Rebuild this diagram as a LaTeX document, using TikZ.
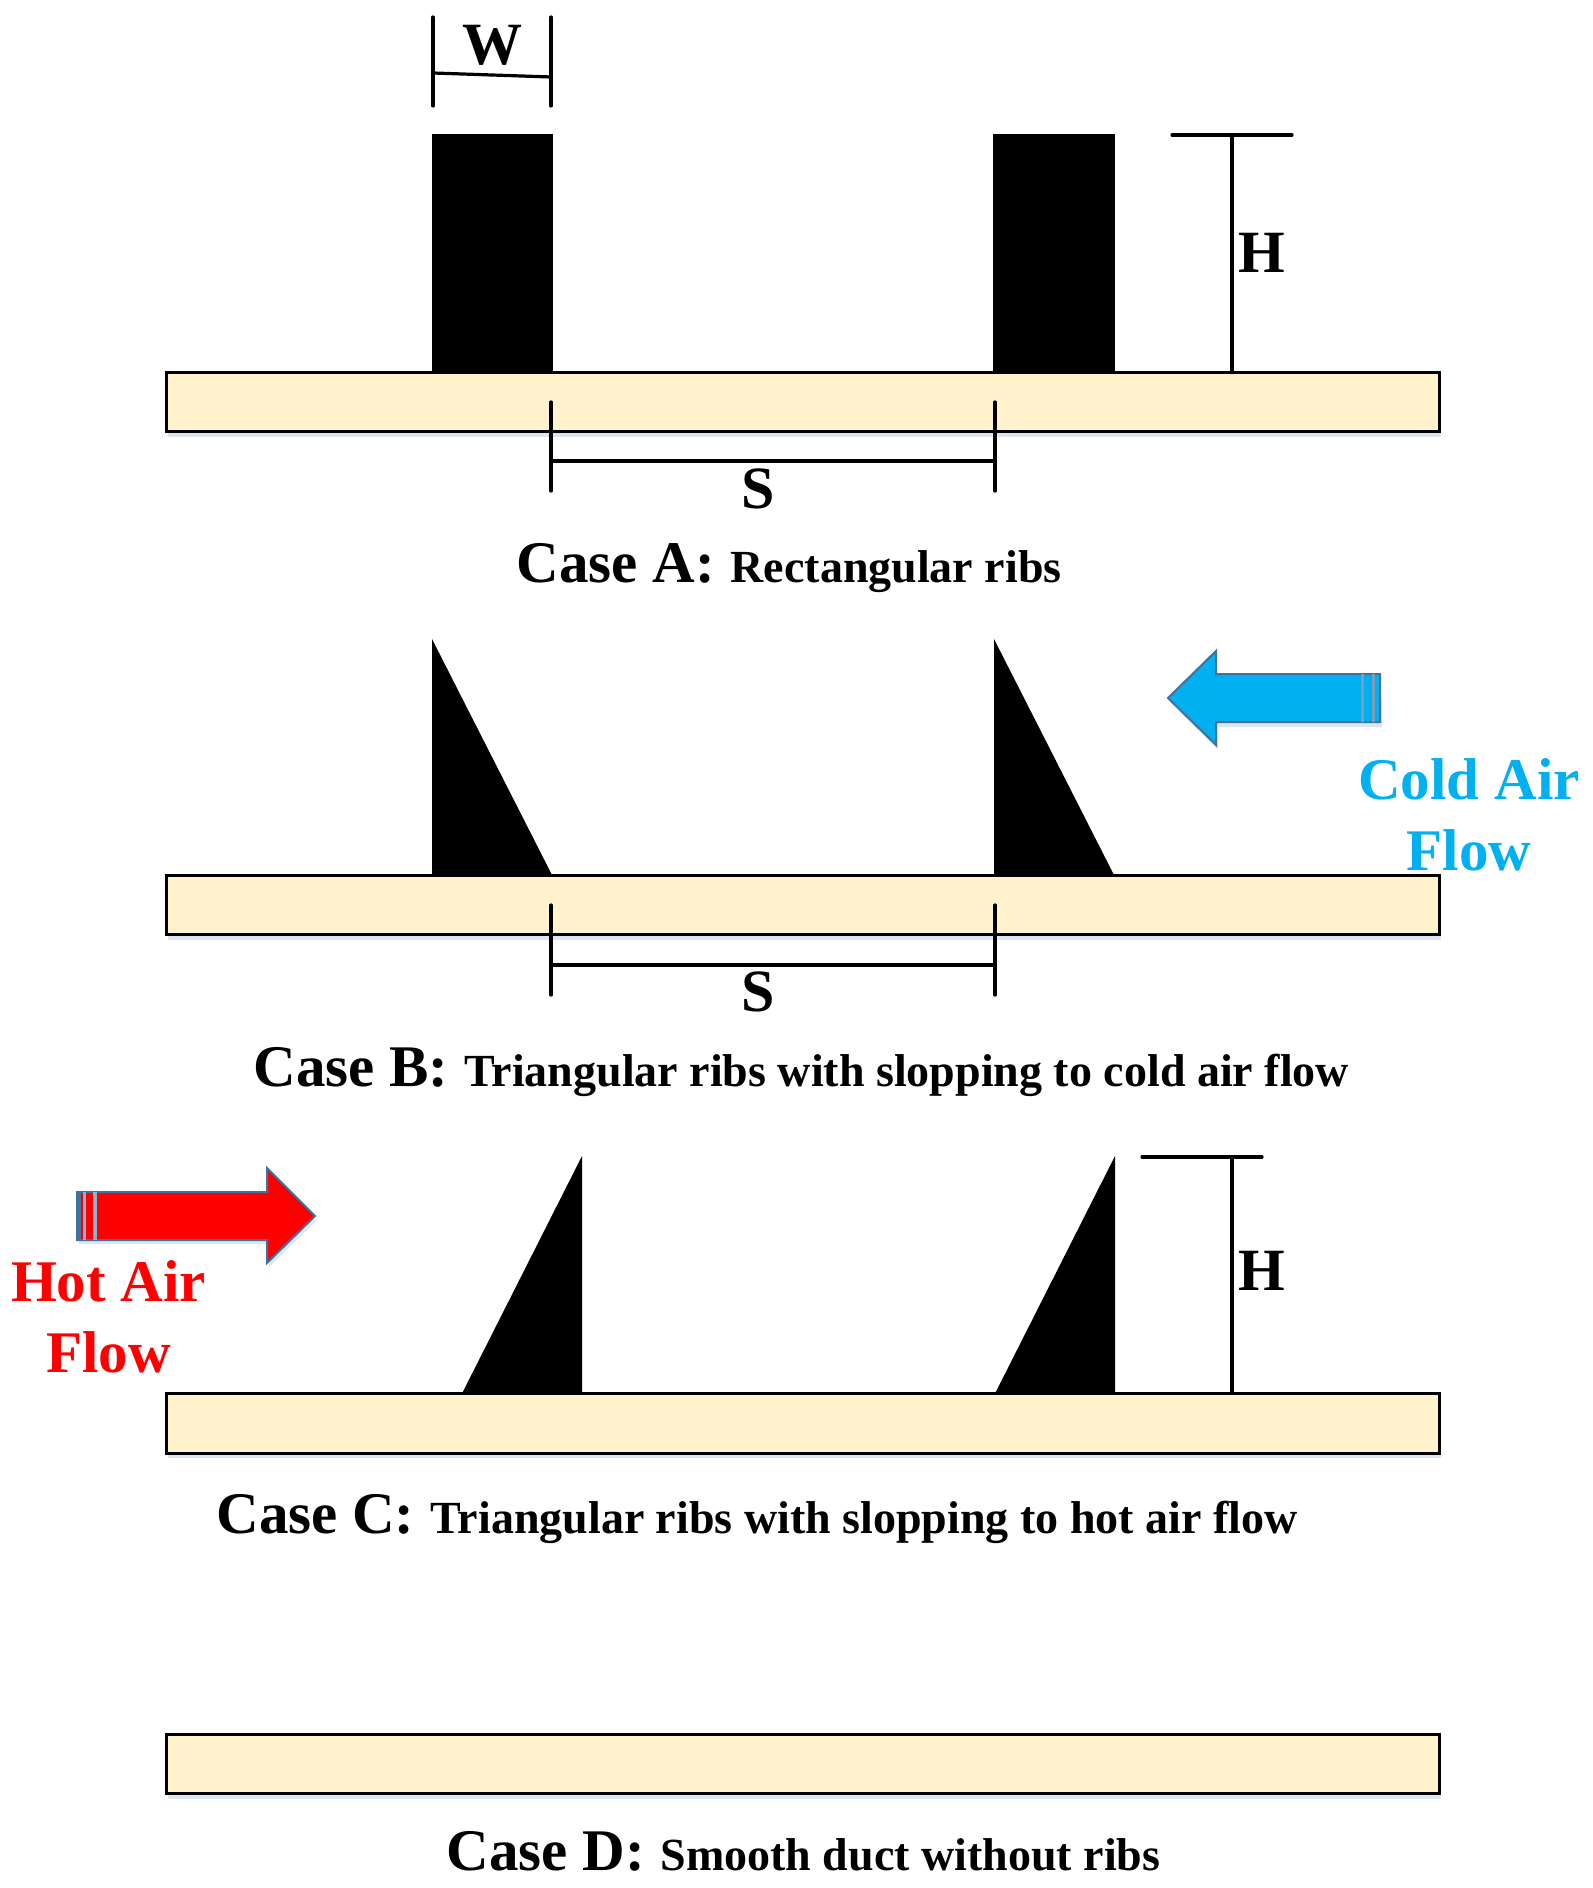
\documentclass[tikz,border=0pt]{standalone}
\usepackage{fontspec}
\setmainfont{Liberation Serif}
\definecolor{barfill}{HTML}{FFF2CC}
\definecolor{coldblue}{HTML}{00B0F0}
\definecolor{hotred}{HTML}{FF0000}
\definecolor{arrowedge}{HTML}{41719C}
\definecolor{softshadow}{HTML}{DCE6F2}
\definecolor{stripelight}{HTML}{8FB4D0}
\definecolor{stripegrey}{HTML}{7F9DB8}
\tikzset{
  duct/.style={draw=black,line width=1.5pt,fill=barfill},
  ductshadow/.style={fill=softshadow,draw=none},
  rib/.style={fill=black,draw=none},
  dim/.style={draw=black,line width=1.6pt,line cap=round},
  dimlabel/.style={font=\fontsize{30}{30}\selectfont\bfseries,inner sep=0pt},
  captionnode/.style={anchor=base west,inner sep=0pt,font=\bfseries},
  flowlabel/.style={font=\fontsize{29.5}{29.5}\selectfont\bfseries,inner sep=0pt,anchor=base},
  flowarrow/.style={draw=arrowedge,line width=1pt,line join=miter},
  stripe/.style={draw=stripelight,line width=1.5pt},
  stripedark/.style={draw=stripegrey,line width=1.5pt}
}
\newcommand{\capline}[2]{{\fontsize{29.5}{29.5}\selectfont #1}\hspace{8pt}{\fontsize{23}{23}\selectfont #2}}
\begin{document}
\begin{tikzpicture}[x=0.5pt,y=-0.5pt]
\useasboundingbox (0,0) rectangle (1593,1888);
% ducts
\foreach \n/\t/\b in {a/372/431.5,b/875/934.5,c/1393.5/1453,d/1734/1793.5}{
  \fill[ductshadow] (168,\b) rectangle (1441,\b+5);
  \draw[duct] (166,\t) rectangle (1439,\b);
}
% case A
\fill[rib] (432,134) rectangle (553,372);
\fill[rib] (993,134) rectangle (1115,372);
\coordinate (wl1) at (433,17); \coordinate (wl2) at (433,106);
\coordinate (wr1) at (551,17); \coordinate (wr2) at (551,106);
\coordinate (wm1) at (433,73); \coordinate (wm2) at (551,77);
\draw[dim] (wl1)--(wl2); \draw[dim] (wr1)--(wr2); \draw[dim] (wm1)--(wm2);
\node[dimlabel] (labW) at (492,45) {W};
\coordinate (ha1) at (1172,135); \coordinate (ha2) at (1292,135);
\coordinate (ha3) at (1232,135); \coordinate (ha4) at (1232,372);
\draw[dim] (ha1)--(ha2); \draw[dim] (ha3)--(ha4);
\node[dimlabel] (labHa) at (1262,253) {H};
\coordinate (sa1) at (551,402); \coordinate (sa2) at (551,491);
\coordinate (sa3) at (995,402); \coordinate (sa4) at (995,491);
\coordinate (sa5) at (551,461); \coordinate (sa6) at (995,461);
\draw[dim] (sa1)--(sa2); \draw[dim] (sa3)--(sa4); \draw[dim] (sa5)--(sa6);
\node[dimlabel] (labSa) at (758,489) {S};
\node[captionnode] (capA) at (516,582) {\capline{Case A:}{Rectangular ribs}};
% case B
\fill[rib] (432,639) -- (552,875) -- (432,875) -- cycle;
\fill[rib] (994,639) -- (1114,875) -- (994,875) -- cycle;
\coordinate (sb1) at (551,905); \coordinate (sb2) at (551,995);
\coordinate (sb3) at (995,905); \coordinate (sb4) at (995,995);
\coordinate (sb5) at (551,965); \coordinate (sb6) at (995,965);
\draw[dim] (sb1)--(sb2); \draw[dim] (sb3)--(sb4); \draw[dim] (sb5)--(sb6);
\node[dimlabel] (labSb) at (758,992) {S};
\node[captionnode] (capB) at (253,1086) {\capline{Case B:}{Triangular ribs with slopping to cold air flow}};
% case C
\fill[rib] (582,1156) -- (582,1393.5) -- (462,1393.5) -- cycle;
\fill[rib] (1115,1156) -- (1115,1393.5) -- (995,1393.5) -- cycle;
\coordinate (hc1) at (1142,1157); \coordinate (hc2) at (1262,1157);
\coordinate (hc3) at (1232,1157); \coordinate (hc4) at (1232,1393.5);
\draw[dim] (hc1)--(hc2); \draw[dim] (hc3)--(hc4);
\node[dimlabel] (labHc) at (1262,1271) {H};
\node[captionnode] (capC) at (216,1533) {\capline{Case C:}{Triangular ribs with slopping to hot air flow}};
% case D
\node[captionnode] (capD) at (446,1870) {\capline{Case D:}{Smooth duct without ribs}};
% cold arrow
\fill[softshadow] (1170,702) -- (1218,750) -- (1218,727) -- (1382,727) -- (1382,700) -- cycle;
\draw[flowarrow,fill=coldblue] (1168,698) -- (1216,651) -- (1216,674) -- (1380,674) -- (1380,722) -- (1216,722) -- (1216,745) -- cycle;
\draw[stripedark] (1362,674) -- (1362,722);
\draw[stripedark] (1373,674) -- (1373,722);
\node[flowlabel,text=coldblue] (labCold1) at (1469,799) {Cold Air};
\node[flowlabel,text=coldblue] (labCold2) at (1469,870) {Flow};
% hot arrow
\fill[softshadow] (79,1220) -- (79,1244) -- (269,1244) -- (269,1267) -- (317,1220) -- cycle;
\draw[flowarrow,fill=hotred] (315,1216) -- (267,1168) -- (267,1192) -- (77,1192) -- (77,1240) -- (267,1240) -- (267,1263) -- cycle;
\draw[arrowedge,line width=2pt] (79,1192) -- (79,1240);
\draw[stripe] (84,1192) -- (84,1240);
\draw[stripe,line width=2.2pt] (95,1192) -- (95,1240);
\node[flowlabel,text=hotred] (labHot1) at (108.5,1301) {Hot Air};
\node[flowlabel,text=hotred] (labHot2) at (108.5,1372) {Flow};
\end{tikzpicture}
\end{document}
